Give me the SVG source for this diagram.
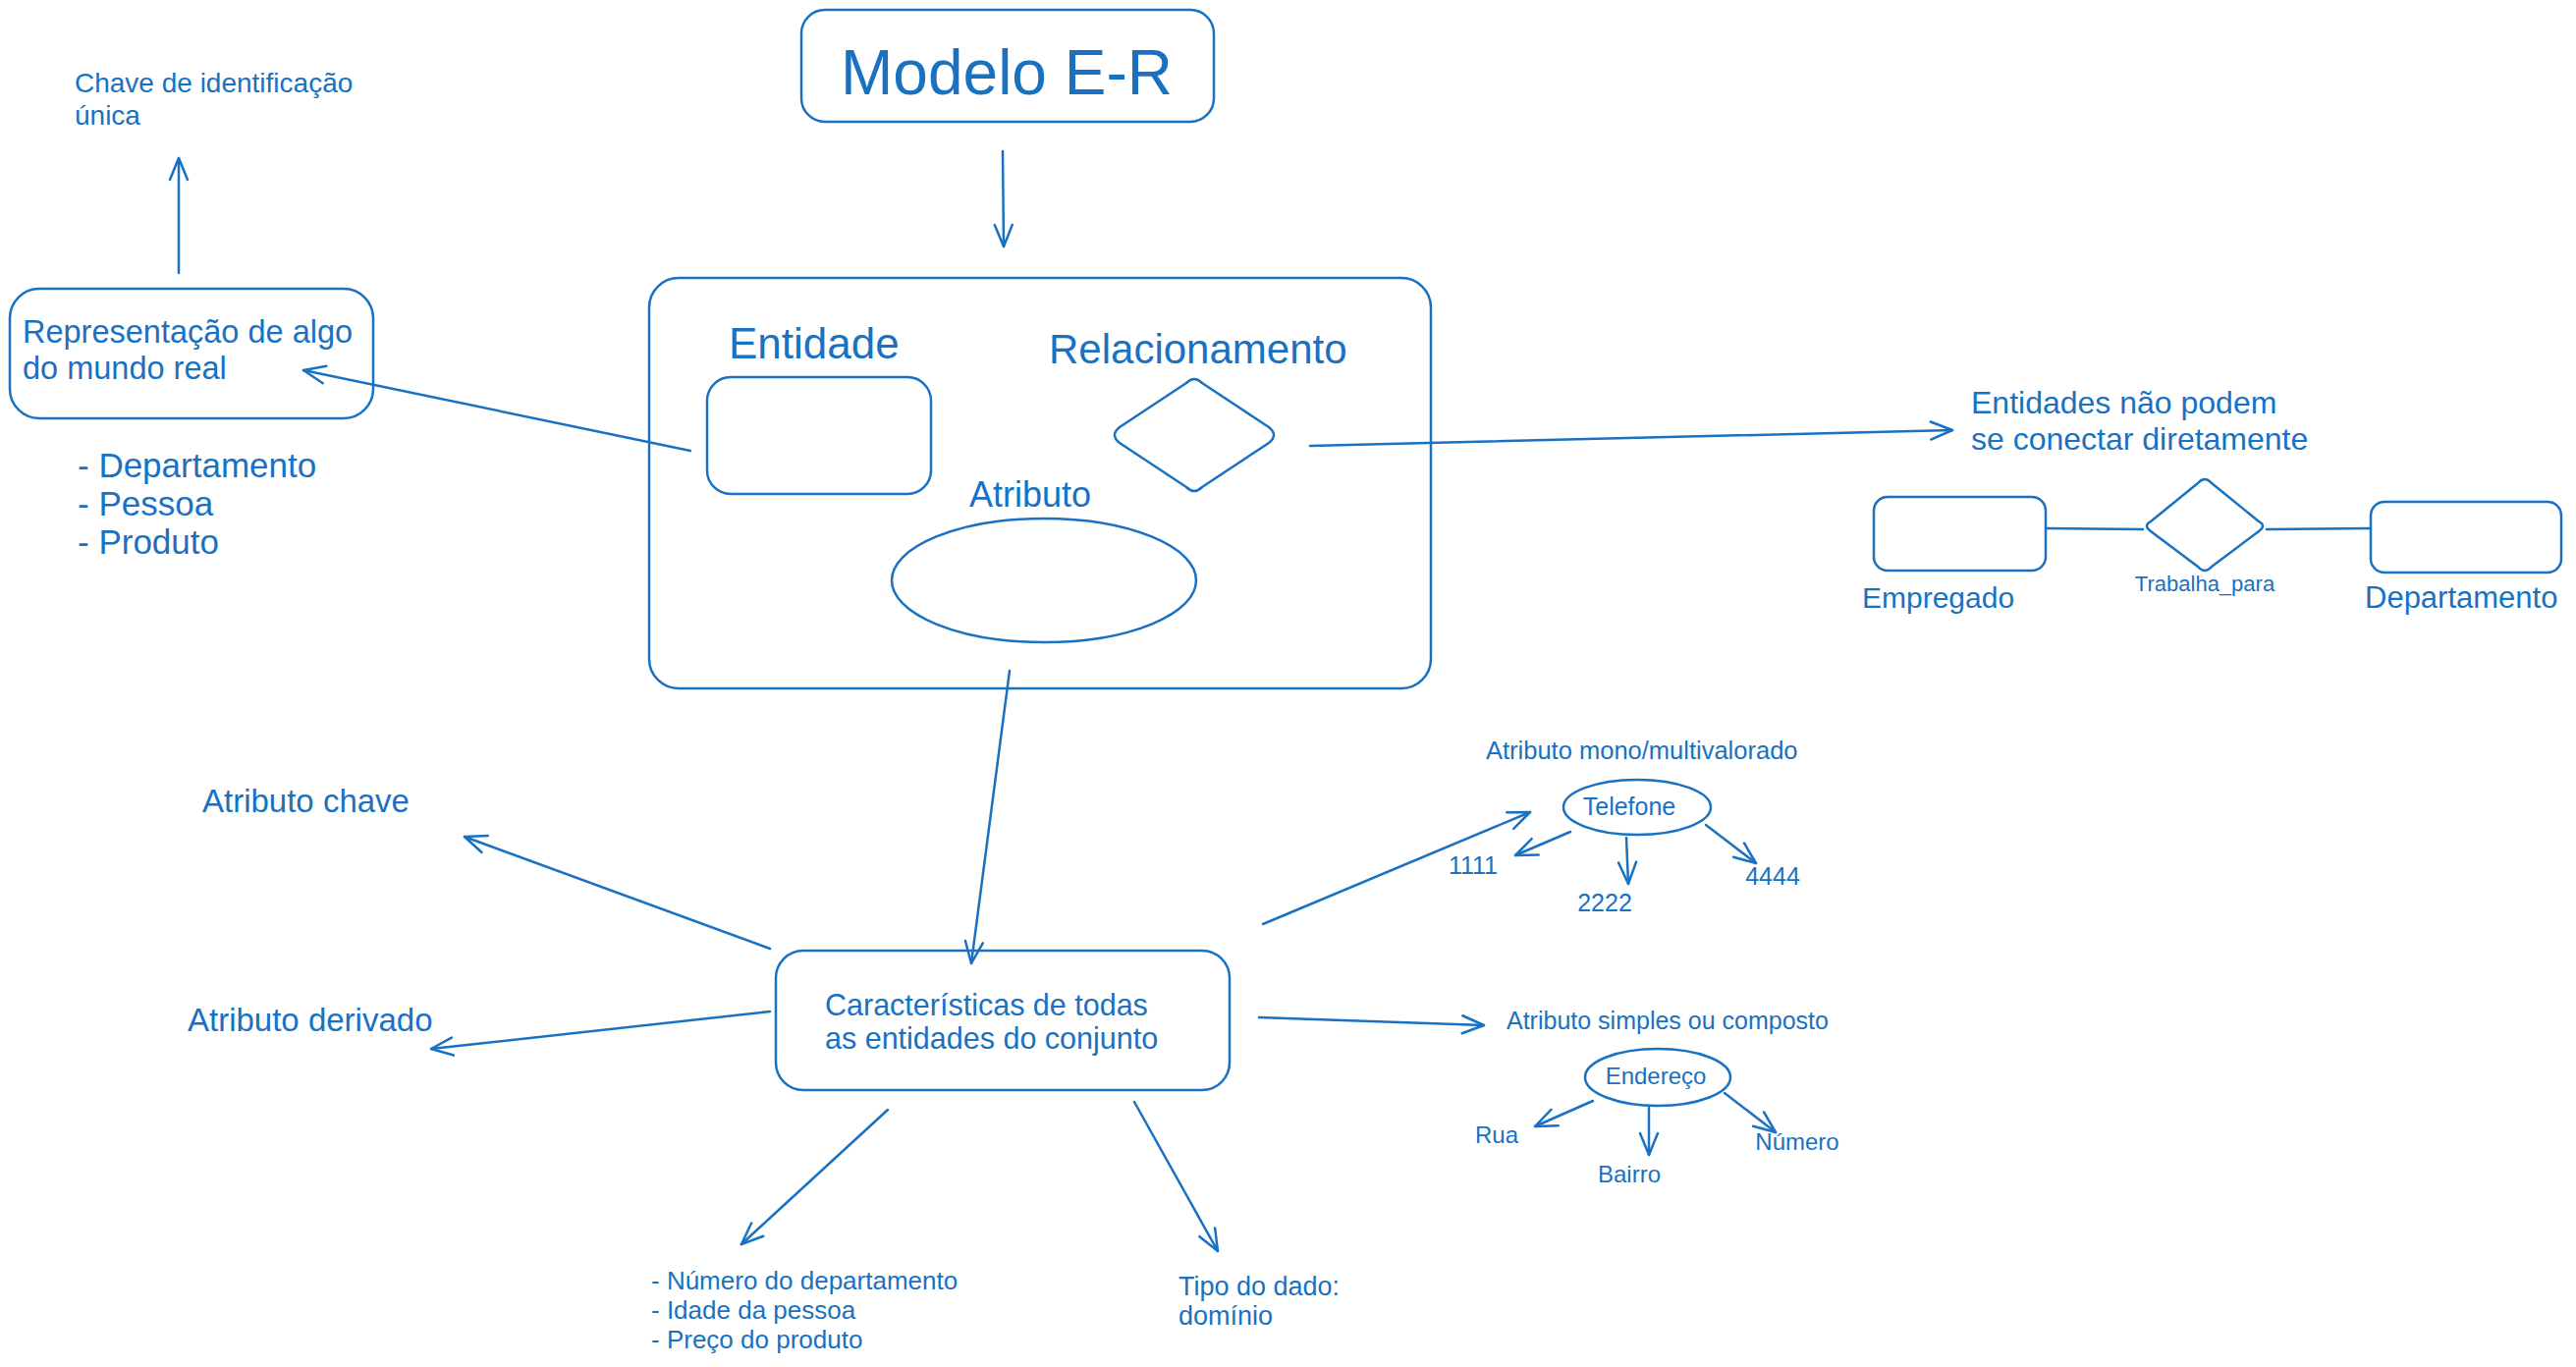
<svg xmlns="http://www.w3.org/2000/svg" width="2623" height="1392" viewBox="0 0 2623 1392">
<style>
.s{fill:none;stroke:#1971c2;stroke-width:2.5;stroke-linecap:round;stroke-linejoin:round}
.c{fill:none;stroke:#1971c2;stroke-width:2.5;stroke-linecap:round;marker-end:url(#ah)}
text{fill:#1971c2;font-family:"Liberation Sans","DejaVu Sans",sans-serif}
.m{text-anchor:middle}
</style>
<defs>
<marker id="ah" markerUnits="userSpaceOnUse" viewBox="-26 -14 30 28" refX="0" refY="0" markerWidth="30" markerHeight="28" orient="auto" overflow="visible">
<path d="M-22,-9 L0,0 L-22,9" fill="none" stroke="#1971c2" stroke-width="2.5" stroke-linecap="round" stroke-linejoin="round"/>
</marker>
</defs>
<rect width="2623" height="1392" fill="#ffffff"/>

<g id="modelo">
<rect class="s" x="816" y="10" width="420" height="114" rx="24"/>
<text class="m" x="1025" y="96" font-size="64">Modelo E-R</text>
</g>

<g id="conceitos">
<rect class="s" x="661" y="283" width="796" height="418" rx="30"/>
<text x="742" y="365" font-size="44">Entidade</text>
<rect class="s" x="720" y="384" width="228" height="119" rx="24"/>
<text x="1068" y="370" font-size="42">Relacionamento</text>
<path class="s" d="M1208,390 Q1216,382 1224,390 L1292,435 Q1302,443 1292,451 L1224,496 Q1216,504 1208,496 L1140,451 Q1130,443 1140,435 Z"/>
<text x="987" y="516" font-size="36">Atributo</text>
<ellipse class="s" cx="1063" cy="591" rx="155" ry="63"/>
</g>

<g id="representacao">
<rect class="s" x="10" y="294" width="370" height="132" rx="30"/>
<text x="23" y="349" font-size="32.5">Representação de algo</text>
<text x="23" y="386" font-size="32.5">do mundo real</text>
</g>

<g id="chave-texto">
<text x="76" y="94" font-size="28">Chave de identificação</text>
<text x="76" y="127" font-size="28">única</text>
</g>

<g id="exemplos-entidade">
<text x="79" y="486" font-size="35">- Departamento</text>
<text x="79" y="525" font-size="35">- Pessoa</text>
<text x="79" y="564" font-size="35">- Produto</text>
</g>

<g id="nao-conectar">
<text x="2007" y="421" font-size="32">Entidades não podem</text>
<text x="2007" y="458" font-size="32">se conectar diretamente</text>
</g>

<g id="empregado">
<rect class="s" x="1908" y="506" width="175" height="75" rx="14"/>
<text x="1896" y="619" font-size="30">Empregado</text>
</g>
<g id="trabalha-para">
<path class="s" d="M2238,492 Q2245,484 2252,492 L2300,531 Q2308,535 2300,541 L2252,577 Q2245,585 2238,577 L2190,541 Q2182,535 2190,531 Z"/>
<text class="m" x="2245" y="602" font-size="22">Trabalha_para</text>
</g>
<g id="departamento">
<rect class="s" x="2414" y="511" width="194" height="72" rx="14"/>
<text x="2408" y="619" font-size="31">Departamento</text>
</g>

<g id="caracteristicas">
<rect class="s" x="790" y="968" width="462" height="142" rx="28"/>
<text x="840" y="1034" font-size="30.5">Características de todas</text>
<text x="840" y="1068" font-size="30.5">as entidades do conjunto</text>
</g>

<g id="atributo-chave"><text x="206" y="827" font-size="33">Atributo chave</text></g>
<g id="atributo-derivado"><text x="191" y="1050" font-size="33">Atributo derivado</text></g>

<g id="exemplos-atributo">
<text x="663" y="1313" font-size="26">- Número do departamento</text>
<text x="663" y="1343" font-size="26">- Idade da pessoa</text>
<text x="663" y="1373" font-size="26">- Preço do produto</text>
</g>

<g id="tipo-dado">
<text x="1200" y="1319" font-size="27">Tipo do dado:</text>
<text x="1200" y="1349" font-size="27">domínio</text>
</g>

<g id="mono-multi">
<text x="1513" y="773" font-size="25.5">Atributo mono/multivalorado</text>
<ellipse class="s" cx="1667" cy="822" rx="75" ry="28"/>
<text class="m" x="1659" y="830" font-size="25">Telefone</text>
<text class="m" x="1500" y="890" font-size="25">1111</text>
<text class="m" x="1634" y="928" font-size="25">2222</text>
<text class="m" x="1805" y="901" font-size="25">4444</text>
</g>

<g id="simples-composto">
<text x="1534" y="1048" font-size="25">Atributo simples ou composto</text>
<ellipse class="s" cx="1688" cy="1097" rx="74" ry="29"/>
<text class="m" x="1686" y="1104" font-size="24">Endereço</text>
<text class="m" x="1524" y="1164" font-size="24">Rua</text>
<text class="m" x="1659" y="1204" font-size="24">Bairro</text>
<text class="m" x="1830" y="1171" font-size="24">Número</text>
</g>

<g id="connectors">
<path class="c" d="M1021,154 L1022,251"/>
<path class="c" d="M703,459 L309,377"/>
<path class="c" d="M182,278 L182,161"/>
<path class="c" d="M1334,454 L1988,438"/>
<path class="s" d="M2083,538 L2182,539"/>
<path class="s" d="M2308,539 L2414,538"/>
<path class="c" d="M1028,683 L989,981"/>
<path class="c" d="M784,966 L473,852"/>
<path class="c" d="M784,1030 L439,1068"/>
<path class="c" d="M904,1130 L755,1267"/>
<path class="c" d="M1155,1122 L1240,1274"/>
<path class="c" d="M1286,941 L1558,827"/>
<path class="c" d="M1599,847 L1543,871"/>
<path class="c" d="M1656,853 L1658,900"/>
<path class="c" d="M1737,840 L1788,879"/>
<path class="c" d="M1282,1036 L1511,1044"/>
<path class="c" d="M1622,1121 L1563,1147"/>
<path class="c" d="M1679,1128 L1679,1176"/>
<path class="c" d="M1756,1113 L1808,1153"/>
</g>
</svg>
